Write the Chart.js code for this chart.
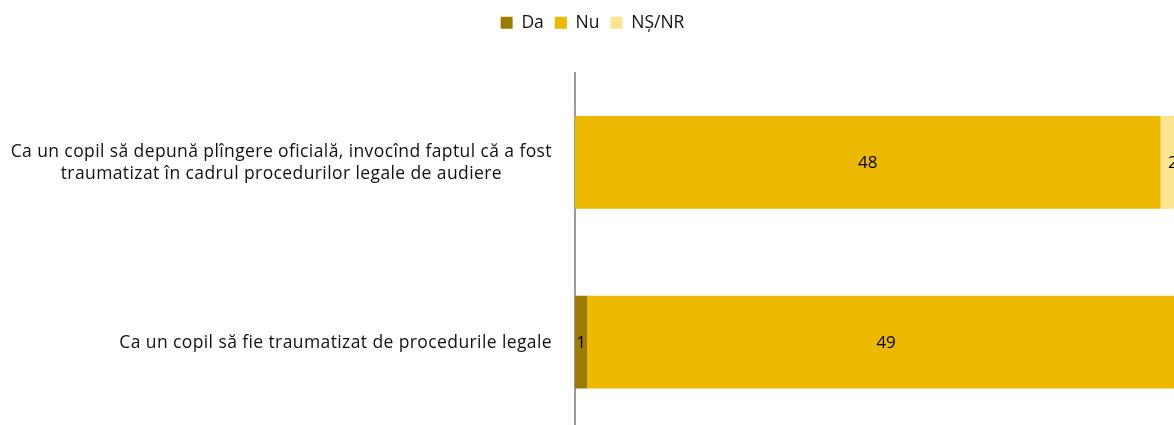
<!DOCTYPE html>
<html>
<head>
<meta charset="utf-8">
<script src="https://cdn.jsdelivr.net/npm/chart.js"></script>
<style>
html, body { margin: 0; padding: 0; background: #fff; overflow: hidden; }
#wrap { position: relative; width: 1185px; height: 432px; }
</style>
</head>
<body>
<div id="wrap"><canvas id="chart"></canvas></div>
<script>
// categories (multi-line labels) and series
const categories = [
    ["Ca un copil să depună plîngere oficială, invocînd faptul că a fost", "traumatizat în cadrul procedurilor legale de audiere"],
    ["Ca un copil să fie traumatizat de procedurile legale"]
];
const daValues = [0, 1];
const nuValues = [48, 49];
const nsnrValues = [2, 0];

const FONT = "'Open Sans', Lato, sans-serif";

// extra room below the legend
const legendGap = {
    id: 'legendGap',
    beforeLayout(chart) {
        const lg = chart.legend;
        if (lg && !lg._gapPatched) {
            const fit = lg.fit;
            lg.fit = function() { fit.call(this); this.height += 31; };
            lg._gapPatched = true;
        }
    }
};

// draws the category labels: block right aligned, lines centered inside block
const catLabels = {
    id: 'catLabels',
    afterDraw(chart) {
        const ctx = chart.ctx;
        const y = chart.scales.y;
        ctx.save();
        ctx.font = "17.5px " + FONT;
        ctx.letterSpacing = "0.4px";
        ctx.fillStyle = "#111";
        ctx.textBaseline = "middle";
        ctx.textAlign = "center";
        const lh = 22;
        categories.forEach(function(lines, i) {
            let w = 0;
            lines.forEach(function(l) { w = Math.max(w, ctx.measureText(l).width); });
            const cx = y.right - 23 - w / 2;
            const cy = y.getPixelForValue(i) + 1;
            lines.forEach(function(l, j) {
                ctx.fillText(l, cx, cy + (j - (lines.length - 1) / 2) * lh);
            });
        });
        ctx.restore();
    }
};

// values in the middle of each segment
const valueLabels = {
    id: 'valueLabels',
    afterDatasetsDraw(chart) {
        const ctx = chart.ctx;
        ctx.save();
        ctx.font = "17px " + FONT;
        ctx.fillStyle = "#000";
        ctx.textAlign = "center";
        ctx.textBaseline = "middle";
        chart.data.datasets.forEach(function(ds, di) {
            chart.getDatasetMeta(di).data.forEach(function(bar, i) {
                if (!ds.data[i]) return;
                const p = bar.getProps(['x', 'y', 'base'], true);
                ctx.fillText(ds.data[i], (p.x + p.base) / 2, p.y + 1);
            });
        });
        ctx.restore();
    }
};

new Chart(document.getElementById("chart"), {
    type: 'bar',
    data: {
        labels: categories,
        datasets: [
            { label: 'Da', data: daValues, backgroundColor: '#9c7b00' },
            { label: 'Nu', data: nuValues, backgroundColor: '#edb900' },
            { label: 'NȘ/NR', data: nsnrValues, backgroundColor: '#fde490' }
        ]
    },
    options: {
        indexAxis: 'y',
        responsive: true,
        maintainAspectRatio: false,
        animation: false,
        barPercentage: 0.515,
        categoryPercentage: 1,
        layout: { padding: { top: 3, right: 0, bottom: 0, left: 0 } },
        scales: {
            x: { stacked: true, display: false, min: 0, max: 50 },
            y: {
                stacked: true,
                grid: { display: false },
                border: { display: true, color: '#9a9a9a', width: 2 },
                ticks: { display: false },
                afterFit: function(scale) { scale.width = 575; }
            }
        },
        plugins: {
            legend: {
                position: 'top',
                align: 'center',
                labels: {
                    boxWidth: 12,
                    boxHeight: 12,
                    padding: 11,
                    color: '#111',
                    font: { family: FONT, size: 17.5 }
                }
            },
            tooltip: { enabled: false }
        }
    },
    plugins: [legendGap, catLabels, valueLabels]
});
</script>
</body>
</html>
